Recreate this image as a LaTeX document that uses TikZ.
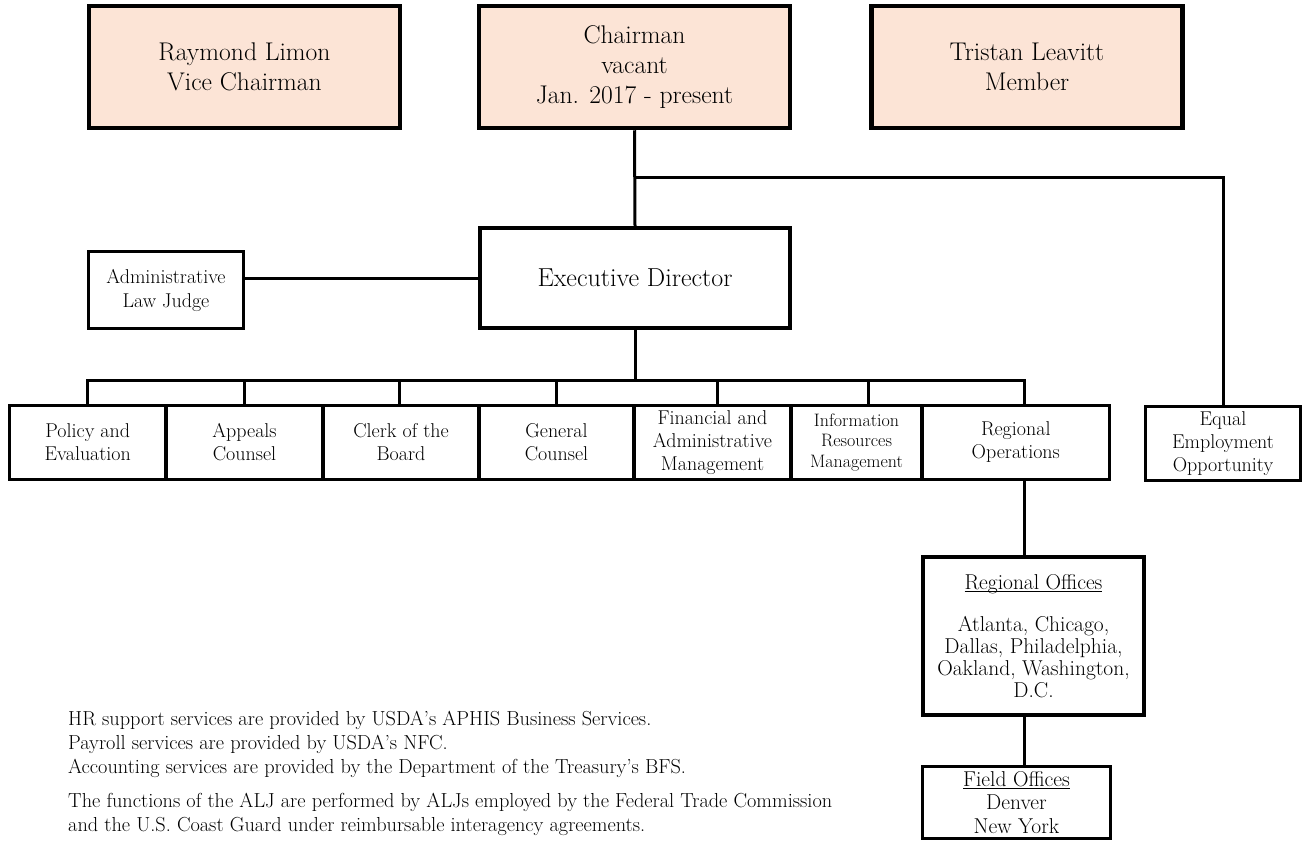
\documentclass[tikz,border=0pt]{standalone}
\usepackage{tikz}
\definecolor{peach}{HTML}{FCE4D6}
\newcommand\undl[1]{\underline{\raisebox{0pt}[\height][0pt]{#1}}}
\tikzset{
  box/.style={draw, line width=3.6pt, inner sep=0pt, align=center},
  topbox/.style={box, line width=4.5pt, fill=peach, minimum width=311pt,
    minimum height=122pt, font=\fontsize{25.6}{30}\selectfont},
  unitbox/.style={box, minimum height=74pt, font=\fontsize{20}{23}\selectfont},
  link/.style={line width=3pt},
  note/.style={anchor=base west, inner sep=0pt, font=\fontsize{20.3}{24}\selectfont}
}
\begin{document}
\begin{tikzpicture}[x=1pt,y=-1pt]
    \useasboundingbox (0,0) rectangle (1304,841);
    % board
    \node[topbox] (vice) at (244.5,67) {Raymond Limon\\Vice Chairman};
    \node[topbox] (chair) at (634.5,67) {Chairman\\vacant\\Jan. 2017 - present};
    \node[topbox] (member) at (1027,67) {Tristan Leavitt\\Member};
    % executive level
    \node[box, minimum width=310pt, minimum height=100pt,
      font=\fontsize{26}{30}\selectfont] (exec) at (635,278) {Executive Director};
    \node[box, minimum width=155pt, minimum height=77pt,
      font=\fontsize{20}{24}\selectfont] (alj) at (166,290) {Administrative\\Law Judge};
    % offices
    \node[unitbox, minimum width=156.5pt] (pol) at (87.75,442.5) {Policy and\\Evaluation};
    \node[unitbox, minimum width=157pt] (app) at (244.5,442.5) {Appeals\\Counsel};
    \node[unitbox, minimum width=156pt] (clk) at (401,442.5) {Clerk of the\\Board};
    \node[unitbox, minimum width=155pt] (gen) at (556.5,442.5) {General\\Counsel};
    \node[unitbox, minimum width=157pt] (fin) at (712.5,442.5) {Financial and\\Administrative\\Management};
    \node[unitbox, minimum width=131pt, font=\fontsize{18}{20.5}\selectfont]
      (irm) at (856.5,442.5) {Information\\Resources\\Management};
    \node[unitbox, minimum width=187.5pt] (reg) at (1015.75,442.5) {Regional\\Operations};
    \node[unitbox, minimum width=155pt] (eeo) at (1223,443.5) {Equal\\Employment\\Opportunity};
    % field structure
    \node[box, line width=4.5pt, minimum width=221pt, minimum height=158pt,
      font=\fontsize{21.5}{22}\selectfont] (roff) at (1033.5,636)
      {\undl{Regional Offices}\\[20pt]Atlanta, Chicago,\\Dallas, Philadelphia,\\Oakland, Washington,\\D.C.};
    \node[box, minimum width=188pt, minimum height=72pt,
      font=\fontsize{21.5}{23.5}\selectfont] (foff) at (1016.5,802.5)
      {\undl{Field Offices}\\Denver\\New York};
    % connectors
    \coordinate (br) at (635,177);
    \coordinate (bus) at (635,380);
    \draw[link] (chair.south) -- (exec.north);
    \draw[link] (br) -| (eeo.north);
    \draw[link] (exec.west) -- (exec.west -| alj.east);
    \draw[link] (exec.south) -- (bus);
    \draw[link] (pol.north) |- (bus) -| ([xshift=9pt]reg.north);
    \foreach \n/\dx in {app/0,clk/-2,gen/0,fin/5,irm/12}
      \draw[link] ([xshift=\dx pt]\n.north) -- ([xshift=\dx pt]\n.north |- bus);
    \coordinate (rx) at ([xshift=9pt]reg.south);
    \draw[link] (rx) -- (rx |- roff.north);
    \draw[link] (rx |- roff.south) -- (rx |- foff.north);
    % notes
    \node[note] (note1) at (68,725) {HR support services are provided by USDA’s APHIS Business Services.};
    \node[note] (note2) at (68,749) {Payroll services are provided by USDA’s NFC.};
    \node[note] (note3) at (68,773) {Accounting services are provided by the Department of the Treasury’s BFS.};
    \node[note] (note4) at (68,807) {The functions of the ALJ are performed by ALJs employed by the Federal Trade Commission};
    \node[note] (note5) at (68,831) {and the U.S. Coast Guard under reimbursable interagency agreements.};
\end{tikzpicture}
\end{document}
